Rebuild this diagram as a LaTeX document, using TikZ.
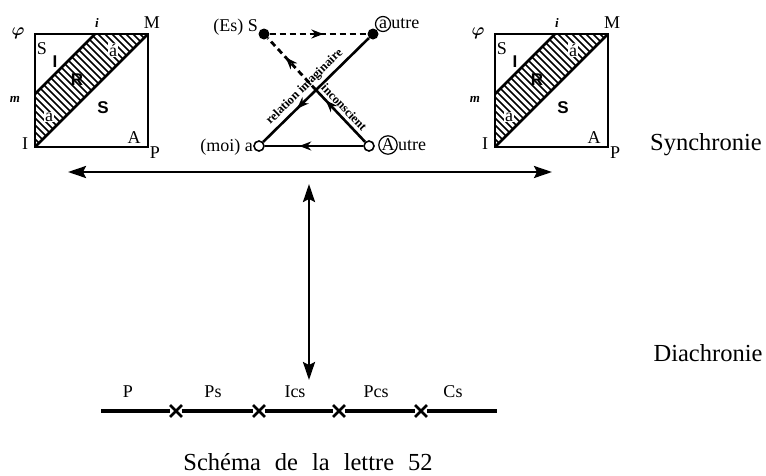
\documentclass[tikz,border=0pt]{standalone}
\usepackage{amsmath}
\usepackage{fontspec}
\setmainfont{Liberation Serif}
\newfontfamily\sansbold{Liberation Sans}
\usepackage{tikz}
\usetikzlibrary{arrows.meta, positioning, decorations.markings, shapes.misc, calc}

\begin{document}
\begin{tikzpicture}[
    x=1pt, y=-1pt,
    frame/.style={line width=1.8pt},
    diag/.style={line width=2.8pt},
    hatch/.style={line width=1.6pt},
    lbl/.style={inner sep=0pt, font=\fontsize{18}{20}\selectfont},
    tiny/.style={inner sep=0pt, font=\fontsize{13}{14}\selectfont\bfseries\itshape},
    big/.style={inner sep=0pt, font=\fontsize{17}{19}\selectfont\sansbold\bfseries},
    tag/.style={inner sep=0pt, font=\fontsize{12.5}{14}\selectfont\bfseries},
    heading/.style={inner sep=0pt, font=\fontsize{24.5}{28}\selectfont},
    ring/.style={circle, draw, line width=1.2pt, inner sep=0.3pt, minimum size=15pt, font=\fontsize{18}{20}\selectfont},
    dotfull/.style={circle, fill=black, minimum size=11pt, inner sep=0pt},
    dotopen/.style={circle, draw, line width=1.6pt, fill=white, minimum size=10pt, inner sep=0pt},
    link/.style={line width=2.6pt},
    dlink/.style={line width=2.8pt, dash pattern=on 6pt off 4pt},
    midarrow/.style={postaction={decorate}, decoration={markings,
        mark=at position #1 with {\arrow{Stealth[length=12pt, width=9pt]}}}},
    bigarrow/.style={line width=2.4pt, {Stealth[length=18pt, width=12pt, inset=3pt]}-{Stealth[length=18pt, width=12pt, inset=3pt]}},
    seg/.style={line width=3.2pt},
    xmark/.style={cross out, draw, line width=2.8pt, minimum size=9pt, inner sep=0pt}
]
\useasboundingbox (0,0) rectangle (766,475);

% the two squares
\foreach \sx/\sn in {35/L,495/R}{
  \begin{scope}[shift={(\sx,34)}]
    \begin{scope}
      \clip (0,60) -- (60,0) -- (113,0) -- (0,113) -- cycle;
      \foreach \k in {-119,-112,...,119} \draw[hatch] (\k,0) -- ++(125,125);
    \end{scope}
    \draw[frame] (0,0) rectangle (113,113);
    \draw[diag] (0,113) -- (113,0) (0,60) -- (60,0);
    \node[lbl] (phi\sn) at (-17,-1) {$\boldsymbol{\varphi}$};
    \node[tiny] (i\sn) at (62,-11) {i};
    \node[lbl] (M\sn) at (117,-11) {M};
    \node[tiny] (m\sn) at (-20,65) {m};
    \node[lbl] (S\sn) at (7,15) {S};
    \node[big] (I\sn) at (20,28) {I};
    \node[big] (R\sn) at (42,46) {R};
    \node[lbl, fill=white, inner sep=1pt] (ap\sn) at (78,16) {á};
    \node[big] (SS\sn) at (68,74) {S};
    \node[lbl, fill=white, inner sep=1pt] (a\sn) at (14,83) {a};
    \node[lbl] (A\sn) at (99,104) {A};
    \node[lbl] (Ic\sn) at (-10,110) {I};
    \node[lbl] (P\sn) at (120,119) {P};
  \end{scope}
}

% schema L
\node[dotfull] (es) at (264,34) {};
\node[dotfull] (aut) at (373,34) {};
\node[dotopen] (moi) at (259,146) {};
\node[dotopen] (Aut) at (369,146) {};
\coordinate (cross) at ($(aut)!0.5!(moi)$);

\draw[link, midarrow=0.68] (aut) -- node[pos=0.54, sloped, above=3pt, tag] {relation imaginaire} (moi);
\draw[link, midarrow=0.8] (Aut) -- node[pos=0.55, sloped, above=3pt, tag] {inconscient} (cross);
\draw[dlink, midarrow=0.63] (cross) -- (es);
\draw[dlink, midarrow=0.55] (es) -- (aut);
\draw[link, midarrow=0.65] (Aut) -- (moi);

\node[lbl, anchor=base east] (esl) at (258,31) {(Es) S};
\node[ring] (ra) at (383,24) {a};
\node[lbl, anchor=base west] (rautre) at (ra.base -| ra.east) {utre};
\node[lbl, anchor=base east] (moil) at (253,151) {(moi) a};
\node[ring] (rA) at (388,145) {A};
\node[lbl, anchor=base west] (rAutre) at (rA.base -| rA.east) {utre};

% axes
\coordinate (synL) at (68,172);
\coordinate (synR) at (552,172);
\draw[bigarrow] (synL) -- (synR);
\coordinate (diaT) at (309,184);
\coordinate (diaB) at (309,380);
\draw[bigarrow] (diaT) -- (diaB);

\node[heading, anchor=base] (syn) at (706,150) {Synchronie};
\node[heading, anchor=base] (dia) at (708,361) {Diachronie};

% diachronic line
\coordinate (t0) at (101,411);
\foreach \i/\x in {1/176,2/259,3/339,4/421}
  \node[xmark] (x\i) at (\x,411) {};
\coordinate (t5) at (497,411);
\draw[seg] (t0) -- (x1) (x1) -- (x2) (x2) -- (x3) (x3) -- (x4) (x4) -- (t5);
\foreach \t/\x in {P/128,Ps/213,Ics/295,Pcs/376,Cs/453}
  \node[lbl, anchor=base] (l\t) at (\x,397) {\t};

\node[heading, anchor=base] (cap) at (308,470) {Schéma\hspace{14pt}de\hspace{14pt}la\hspace{14pt}lettre\hspace{14pt}52};
\end{tikzpicture}
\end{document}
